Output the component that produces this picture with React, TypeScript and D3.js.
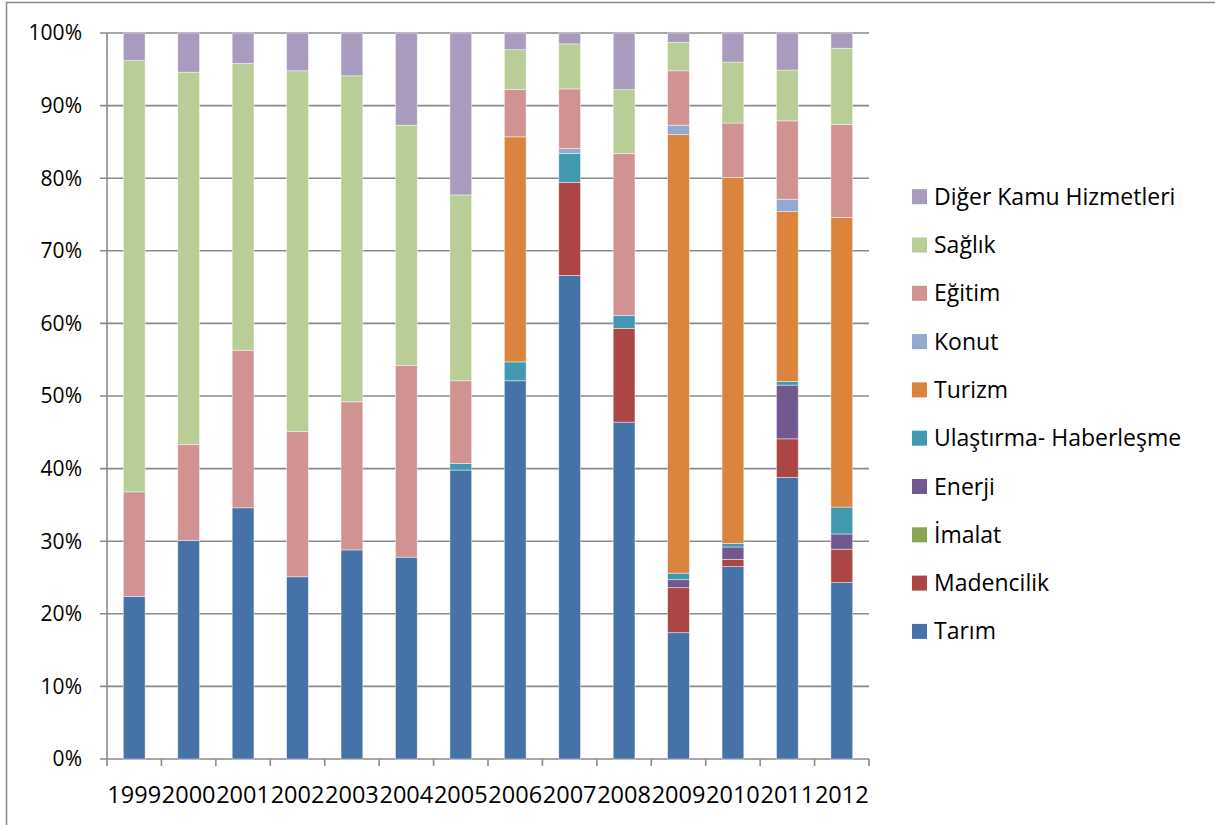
import React from "react";
import * as d3 from "d3";

const years = ["1999","2000","2001","2002","2003","2004","2005","2006","2007","2008","2009","2010","2011","2012"];
const seriesNames = ["Tarım","Madencilik","İmalat","Enerji","Ulaştırma- Haberleşme","Turizm","Konut","Eğitim","Sağlık","Diğer Kamu Hizmetleri"];
const colors = ["#4572A7","#AA4643","#89A54E","#71588F","#4198AF","#DB843D","#93A9CF","#D19392","#B9CD96","#A99BBD"];

const tarim =      [22.4,30.1,34.6,25.1,28.8,27.8,39.8,52.1,66.6,46.4,17.4,26.5,38.8,24.3];
const madencilik = [0,0,0,0,0,0,0,0,12.8,12.9,6.2,1.0,5.3,4.6];
const imalat =     [0,0,0,0,0,0,0,0,0,0,0,0,0,0];
const enerji =     [0,0,0,0,0,0,0,0,0,0,1.1,1.7,7.4,2.1];
const ulastirma =  [0,0,0,0,0,0,0.9,2.6,4.0,1.8,0.9,0.5,0.5,3.7];
const turizm =     [0,0,0,0,0,0,0,31.0,0,0,60.4,50.4,23.4,39.9];
const konut =      [0,0,0,0,0,0,0,0,0.7,0,1.3,0,1.7,0];
const egitim =     [14.4,13.2,21.7,20.0,20.4,26.4,11.4,6.5,8.2,22.3,7.5,7.5,10.8,12.8];
const saglik =     [59.4,51.3,39.5,49.7,44.9,33.1,25.6,5.5,6.2,8.8,3.9,8.4,7.0,10.5];
const diger =      [3.8,5.4,4.2,5.2,5.9,12.7,22.3,2.3,1.5,7.8,1.3,4.0,5.1,2.1];

const yTicks = [0,10,20,30,40,50,60,70,80,90,100];

const seriesValues = [tarim, madencilik, imalat, enerji, ulastirma, turizm, konut, egitim, saglik, diger];

export default function App() {
  const left = 107, right = 869, top = 33, bottom = 759;
  const x = d3.scaleBand<string>().domain(years).range([left, right]).paddingInner(0.6).paddingOuter(0.3);
  const y = d3.scaleLinear().domain([0, 100]).range([bottom, top]);
  const rows = years.map((yr, i) => {
    const o: any = { year: yr };
    seriesNames.forEach((s, k) => (o[s] = seriesValues[k][i]));
    return o;
  });
  const stack = d3.stack<any>().keys(seriesNames).offset(d3.stackOffsetExpand);
  const stacked = stack(rows);
  const step = (right - left) / years.length;
  const font = "'Open Sans', sans-serif";
  const legendOrder = seriesNames.map((_, i) => i).reverse();

  return (
    <svg width={1215} height={825} style={{ position: "absolute", left: 0, top: 0, background: "#fff" }} fontFamily={font}>
      <rect x={0} y={0} width={1215} height={825} fill="#fff" />
      <line x1={6.5} y1={2} x2={6.5} y2={825} stroke="#888" strokeWidth={1.5} />
      <line x1={6} y1={2.5} x2={1215} y2={2.5} stroke="#888" strokeWidth={1.5} />
      {yTicks.map((t) => (
        <g key={t}>
          <line x1={100} x2={right} y1={y(t)} y2={y(t)} stroke="#8a8a8a" strokeWidth={1.6} />
          <text x={82} y={y(t)} dy="0.35em" textAnchor="end" fontSize={21} fill="#000">{t}%</text>
        </g>
      ))}
      <line x1={left} x2={left} y1={top} y2={bottom} stroke="#8a8a8a" strokeWidth={1.6} />
      {d3.range(years.length + 1).map((i) => (
        <line key={i} x1={left + i * step} x2={left + i * step} y1={bottom} y2={bottom + 7} stroke="#8a8a8a" strokeWidth={1.6} />
      ))}
      {stacked.map((layer, k) => (
        <g key={layer.key} fill={colors[k]}>
          {layer.map((d, i) => {
            const h = y(d[0] * 100) - y(d[1] * 100);
            if (h <= 0) return null;
            return (
              <rect key={i} x={x(years[i])} y={y(d[1] * 100)} width={x.bandwidth()} height={h}
                stroke="rgba(255,255,255,0.55)" strokeWidth={0.8} />
            );
          })}
        </g>
      ))}
      {years.map((yr) => (
        <text key={yr} x={(x(yr) as number) + x.bandwidth() / 2} y={803} textAnchor="middle" fontSize={23.5} fill="#000">{yr}</text>
      ))}
      {legendOrder.map((k, j) => {
        const cy = 196.7 + j * 48.3;
        return (
          <g key={k}>
            <rect x={912} y={cy - 7.5} width={15} height={15} fill={colors[k]} />
            <text x={934} y={cy} dy="0.35em" fontSize={23} fill="#000">{seriesNames[k]}</text>
          </g>
        );
      })}
    </svg>
  );
}
